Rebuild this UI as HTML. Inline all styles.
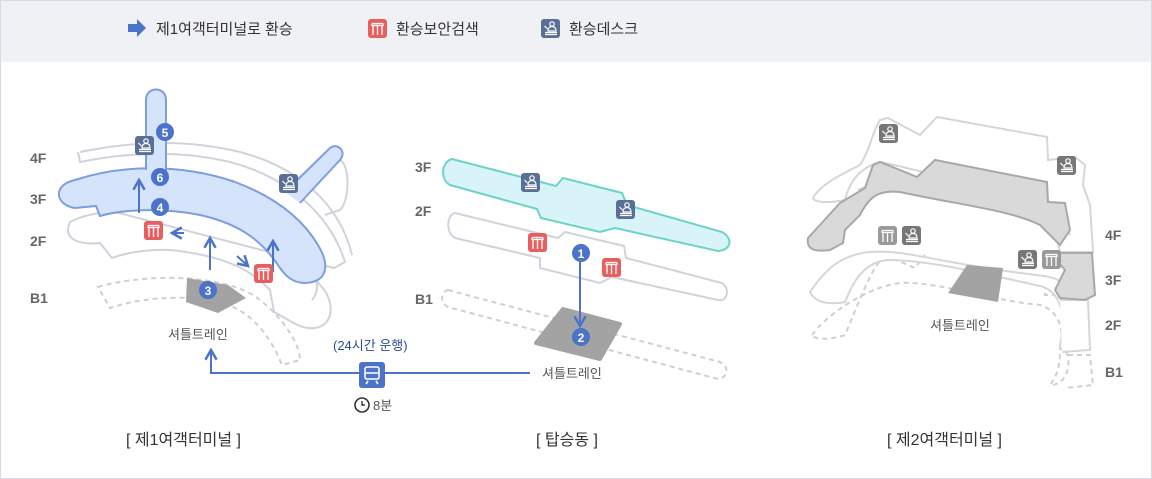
<!DOCTYPE html>
<html><head><meta charset="utf-8"><style>
html,body{margin:0;padding:0;background:#fff}
svg{display:block}
text{font-family:"Liberation Sans","Noto Sans CJK KR",sans-serif}
</style></head><body>
<svg width="1152" height="479" viewBox="0 0 1152 479" xmlns="http://www.w3.org/2000/svg">
<defs>
<g id="sec"><rect x="0" y="0" width="19" height="19" rx="3" fill="#e85f5f"/><path d="M4 4.5h11M5 7v9M9.5 7v9M14 7v9M4 4.5v2h11v-2" stroke="#fff" stroke-width="1.3" fill="none"/><path d="M6 6h1M8.5 6h1M11 6h1" stroke="#fff" stroke-width="1"/></g>
<g id="deskI"><circle cx="11" cy="5" r="2.2" fill="none" stroke="#fff" stroke-width="1.2"/><path d="M7 12c0-3 1.5-4.5 4-4.5s4 1.5 4 4.5z" fill="none" stroke="#fff" stroke-width="1.2"/><path d="M4 13.5h12M4 15.5h12M3.5 7l3 3" stroke="#fff" stroke-width="1.2"/></g>
<g id="desk"><rect width="19" height="19" rx="3" fill="#5a6f96"/><use href="#deskI"/></g>
<g id="deskg"><rect width="19" height="19" rx="3" fill="#777"/><use href="#deskI"/></g>
<g id="secg"><rect width="19" height="19" rx="3" fill="#9a9a9a"/><path d="M4 4.5h11M5 7v9M9.5 7v9M14 7v9M4 4.5v2h11v-2" stroke="#fff" stroke-width="1.3" fill="none"/></g>
<marker id="ah" viewBox="0 0 10 10" refX="8" refY="5" markerWidth="7" markerHeight="7" orient="auto"><path d="M1 1L8 5L1 9" fill="none" stroke="#4a73c9" stroke-width="1.8"/></marker>
</defs>
<rect x="0.5" y="0.5" width="1151" height="478" fill="#fff" stroke="#d6dbe6"/>
<rect x="1" y="1" width="1150" height="61" fill="#f0f1f4"/>
<!-- legend -->
<path d="M128 24h9v-5l9 9-9 9v-5h-9z" fill="#4a73c9"/>
<text x="156" y="34" font-size="15" fill="#333">제1여객터미널로 환승</text>
<use href="#sec" x="368" y="19"/>
<text x="396" y="34" font-size="15" fill="#333">환승보안검색</text>
<use href="#desk" x="541" y="19"/>
<text x="569" y="34" font-size="15" fill="#333">환승데스크</text>

<!-- T1 -->
<g fill="none" stroke="#d0d3dc" stroke-width="2">
<path d="M78,152 L80,162 C130,152 180,150 230,162 C290,178 330,215 345,262 L334,268 L310,262" fill="#fff"/>
<path d="M80,152 C140,140 190,140 240,152 C300,168 340,205 352,255"/>
<path d="M70,222 C90,212 110,212 115,212 L300,260 L320,285 C335,300 335,325 315,328 C300,330 290,320 274,312 L270,290 C250,268 220,255 170,250 C140,249 120,255 112,258 L100,243 C80,245 62,240 70,222Z" fill="#fff"/>
<path d="M300,258 C320,275 320,290 312,300"/>
<path d="M320,170 L340,160 C350,165 350,200 340,210 L325,215"/>
</g>
<path d="M98,287 C150,272 230,275 260,300 C285,320 300,345 300,360 L282,365 C270,335 250,310 220,302 C180,294 140,298 110,308 Z" fill="none" stroke="#cfcfcf" stroke-width="2" stroke-dasharray="5,4"/>
<path d="M75,208 C55,205 52,185 75,180 C120,165 180,163 235,182 C270,195 300,215 318,245 C330,265 328,282 305,283 C292,283 285,275 280,268 C265,245 245,225 200,215 C160,207 120,210 100,216 L96,206 Z" fill="#d6e4fb" stroke="#7b9ee0" stroke-width="2"/>
<path d="M146,170 V100 C146,86 166,86 166,100 V172" fill="#d6e4fb" stroke="#7b9ee0" stroke-width="2"/>
<path d="M285,192 L330,148 C338,142 347,152 340,160 L300,203" fill="#d6e4fb" stroke="#7b9ee0" stroke-width="2"/>
<polygon points="187,278 228,285 246,298 218,313 186,302" fill="#a3a3a3"/>
<g stroke="#4a73c9" stroke-width="2" fill="none" marker-end="url(#ah)">
<path d="M139,213 V180"/><path d="M210,270 V238"/><path d="M273,272 V241"/><path d="M184,233 H172"/><path d="M237,256 L248,266"/>
<path d="M530,373 H211 V350"/>
</g>
<use href="#sec" x="144" y="221"/><use href="#sec" x="254" y="264"/>
<use href="#desk" x="135" y="136"/><use href="#desk" x="279" y="174"/>
<g fill="#4a73c9"><circle cx="165" cy="132" r="9"/><circle cx="160" cy="177" r="9"/><circle cx="160" cy="207" r="9"/><circle cx="208" cy="290" r="9"/></g>
<g fill="#fff" font-size="12" font-weight="bold" text-anchor="middle"><text x="165" y="137">5</text><text x="160" y="182">6</text><text x="160" y="212">4</text><text x="208" y="295">3</text></g>
<g fill="#666" font-size="14" font-weight="bold"><text x="30" y="163">4F</text><text x="30" y="204">3F</text><text x="30" y="246">2F</text><text x="30" y="303">B1</text>
<text x="415" y="172">3F</text><text x="415" y="216">2F</text><text x="415" y="304">B1</text>
<text x="1105" y="240">4F</text><text x="1105" y="285">3F</text><text x="1105" y="330">2F</text><text x="1105" y="377">B1</text></g>
<text x="168" y="339" font-size="13" fill="#555">셔틀트레인</text>

<!-- center -->
<path d="M448,290 L720,362 C730,367 728,378 718,379 L448,307 C440,303 440,292 448,290Z" fill="none" stroke="#cfcfcf" stroke-width="2" stroke-dasharray="5,4"/>
<path d="M455,213 L558,238 L565,232 L624,246 L626,258 L722,283 C730,288 728,302 718,300 L612,277 L600,283 L540,268 L540,258 L455,238 C445,233 447,214 455,213Z" fill="#fff" stroke="#d0d3dc" stroke-width="2"/>
<polygon points="563,309 620,324 600,359 536,343" fill="#a3a3a3" stroke="#a3a3a3" stroke-width="4" stroke-linejoin="round"/>
<path d="M452,159 L556,186 L563,178 L622,193 L627,205 L722,232 C733,238 732,250 718,251 L615,228 L600,232 L541,218 L537,209 L450,185 C440,180 441,162 452,159Z" fill="#d8f4f8" stroke="#6cd3c7" stroke-width="2"/>
<g stroke="#4a73c9" stroke-width="2" fill="none" marker-end="url(#ah)"><path d="M580,262 V326"/></g>
<circle cx="581" cy="253" r="9" fill="#4a73c9"/><text x="581" y="258" fill="#fff" font-size="12" font-weight="bold" text-anchor="middle">1</text>
<circle cx="581" cy="337" r="9" fill="#4a73c9"/><text x="581" y="342" fill="#fff" font-size="12" font-weight="bold" text-anchor="middle">2</text>
<use href="#desk" x="521" y="173"/><use href="#desk" x="616" y="200"/>
<use href="#sec" x="528" y="233"/><use href="#sec" x="602" y="258"/>
<text x="542" y="378" font-size="13" fill="#555">셔틀트레인</text>
<rect x="359" y="362" width="26" height="26" rx="3" fill="#4a73c9"/>
<rect x="365" y="367" width="14" height="12" rx="2" fill="none" stroke="#fff" stroke-width="1.6"/><path d="M365,373h14M366,384l2-3M378,384l-2-3" stroke="#fff" stroke-width="1.6"/>
<text x="333" y="350" font-size="13" fill="#2c4f8f">(24시간 운행)</text>
<circle cx="362" cy="405" r="7" fill="none" stroke="#333" stroke-width="1.6"/><path d="M362,401v4h3" stroke="#333" stroke-width="1.4" fill="none"/>
<text x="373" y="410" font-size="13" fill="#555">8분</text>

<!-- T2 -->
<g fill="none" stroke="#cfcfcf" stroke-width="2" stroke-dasharray="5,4">
<path d="M812,335 C830,310 880,280 910,283 C950,285 990,300 1040,305 C1058,310 1065,330 1060,345"/>
<path d="M885,255 C870,270 860,300 845,335 C830,340 815,340 812,335"/>
<path d="M885,255 L915,268 L925,255"/>
<path d="M1060,345 L1068,355 C1070,370 1065,385 1050,385 C1060,372 1060,360 1060,345"/>
<path d="M1068,355 L1090,355 L1093,385 L1065,388"/>
<path d="M1045,275 L1045,295 L1060,295"/>
</g>
<path d="M810,292 C825,270 840,255 870,252 C900,249 940,262 1000,270 C1030,275 1048,275 1058,280 C1066,295 1072,320 1070,345 C1065,355 1060,350 1060,345 C1070,300 1050,288 1040,286 C990,275 930,260 888,260 C860,262 850,290 845,302 C830,305 815,303 810,292Z" fill="#fff" stroke="#d6d6d6" stroke-width="2"/>
<path d="M1060,300 L1088,300 L1090,350 L1062,352" fill="#fff" stroke="#d6d6d6" stroke-width="2"/>
<path d="M813,198 C820,185 840,175 860,165 C870,150 873,130 880,120 L888,118 L920,135 L937,117 L1047,137 L1048,160 L1075,157 L1085,165 L1083,185 L1090,205 L1093,252 L1060,252 C1055,230 1050,212 1040,208 C990,190 920,170 880,162 C860,168 850,180 845,200 C830,203 815,203 813,198Z" fill="#fff" stroke="#d6d6d6" stroke-width="2"/>
<path d="M858,190 C880,178 930,180 990,190 C1040,198 1060,210 1070,235" fill="none" stroke="#d6d6d6" stroke-width="2"/>
<path d="M808,238 L840,203 L865,188 L873,165 L880,162 L900,170 L917,177 L935,160 L1047,182 L1048,202 L1065,203 L1070,230 L1060,245 L1040,225 C1010,210 960,205 900,192 C880,190 870,195 860,215 L845,230 L843,243 L830,250 C815,252 806,250 808,238Z" fill="#d9d9d9" stroke="#a8a8a8" stroke-width="2"/>
<path d="M1050,253 L1092,253 L1095,295 L1085,300 L1060,298 L1055,290 L1065,270Z" fill="#d9d9d9" stroke="#a8a8a8" stroke-width="2"/>
<polygon points="967,265 1003,268 998,302 948,293" fill="#a3a3a3"/>
<use href="#deskg" x="879" y="124"/><use href="#deskg" x="1057" y="156"/>
<use href="#secg" x="878" y="226"/><use href="#deskg" x="902" y="226"/>
<use href="#deskg" x="1018" y="250"/><use href="#secg" x="1042" y="250"/>
<text x="930" y="330" font-size="13" fill="#555">셔틀트레인</text>

<g font-size="16" fill="#333"><text x="126" y="445">[ 제1여객터미널 ]</text><text x="536" y="445">[ 탑승동 ]</text><text x="887" y="445">[ 제2여객터미널 ]</text></g>
</svg>
</body></html>
